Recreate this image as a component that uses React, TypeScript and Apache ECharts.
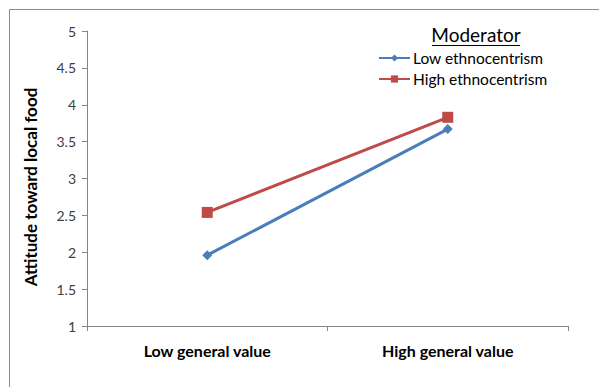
import React, { useEffect, useRef } from "react";
import * as echarts from "echarts";

const categories = ["Low general value", "High general value"];
const lowEthno = [1.96, 3.67];
const highEthno = [2.54, 3.83];
const seriesNames = ["Low ethnocentrism", "High ethnocentrism"];
const yTitle = "Attitude toward local food";
const legendTitle = "Moderator";

export default function App() {
  const ref = useRef<HTMLDivElement>(null);
  useEffect(() => {
    const chart = echarts.init(ref.current!, null, { renderer: "svg" });
    const font = "Lato, 'Open Sans', sans-serif";
    chart.setOption({
      animation: false,
      backgroundColor: "#ffffff",
      textStyle: { fontFamily: font },
      grid: { left: 87, right: 31, top: 31, bottom: 61, containLabel: false },
      xAxis: {
        type: "category",
        data: categories,
        boundaryGap: true,
        axisLine: { lineStyle: { color: "#868686", width: 1 } },
        axisTick: { show: true, length: 5, lineStyle: { color: "#868686" } },
        axisLabel: { color: "#000", fontWeight: "bold", fontSize: 16, margin: 16, fontFamily: font },
      },
      yAxis: {
        type: "value",
        min: 1,
        max: 5,
        interval: 0.5,
        splitLine: { show: false },
        axisLine: { show: true, lineStyle: { color: "#868686", width: 1 } },
        axisTick: { show: true, length: 5, lineStyle: { color: "#868686" } },
        axisLabel: { color: "#404040", fontSize: 14, margin: 11, fontFamily: font },
      },
      legend: {
        orient: "vertical",
        left: 373,
        top: 45,
        itemWidth: 31,
        itemHeight: 9,
        itemGap: 5,
        textStyle: { fontSize: 15.5, color: "#000", fontFamily: font, padding: [0, 0, 0, -2] },
        data: seriesNames,
      },
      graphic: [
        {
          type: "rect",
          silent: true,
          shape: { x: 9.5, y: 9.5, width: 700, height: 500 },
          style: { fill: "none", stroke: "#8c8c8c", lineWidth: 1 },
        },
        {
          type: "text",
          x: 30,
          y: 187,
          rotation: Math.PI / 2,
          style: {
            text: yTitle,
            fontSize: 17,
            fontWeight: "bold",
            fill: "#000",
            fontFamily: font,
            align: "center",
            verticalAlign: "middle",
          },
        },
        {
          type: "text",
          x: 476,
          y: 34,
          style: {
            text: legendTitle,
            fontSize: 19,
            fill: "#000",
            fontFamily: font,
            align: "center",
            verticalAlign: "middle",
          },
        },
        {
          type: "line",
          shape: { x1: 432, y1: 45.5, x2: 520, y2: 45.5 },
          style: { stroke: "#000", lineWidth: 1 },
        },
      ],
      series: [
        {
          name: seriesNames[0],
          type: "line",
          data: lowEthno,
          symbol: "diamond",
          symbolSize: 10,
          lineStyle: { color: "#4A7EBB", width: 3 },
          itemStyle: { color: "#4A7EBB" },
        },
        {
          name: seriesNames[1],
          type: "line",
          data: highEthno,
          symbol: "rect",
          symbolSize: 11,
          lineStyle: { color: "#BE4B48", width: 3 },
          itemStyle: { color: "#BE4B48" },
        },
      ],
    });
    return () => chart.dispose();
  }, []);
  return (
    <div
      ref={ref}
      style={{ position: "absolute", left: 0, top: 0, width: 599, height: 387 }}
    />
  );
}
